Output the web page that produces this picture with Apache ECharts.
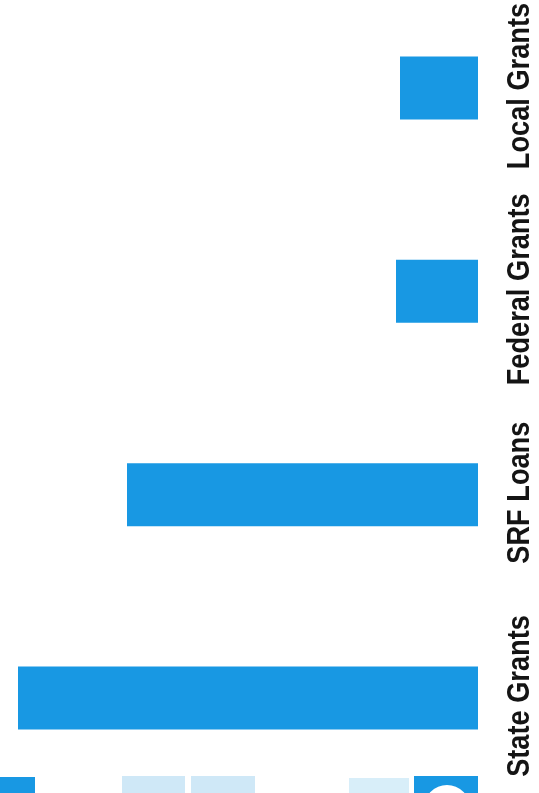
<!DOCTYPE html>
<html>
<head>
<meta charset="utf-8">
<script src="https://cdn.jsdelivr.net/npm/echarts@6/dist/echarts.min.js"></script>
<style>html,body{margin:0;padding:0;background:#fff;}#c{width:539px;height:793px;}</style>
</head>
<body>
<div id="c"></div>
<script>
const categories = ['Local Grants', 'Federal Grants', 'SRF Loans', 'State Grants'];
const values = [0.78, 0.82, 3.51, 4.60];
const axisMax = 4.60;

const chart = echarts.init(document.getElementById('c'), null, {renderer: 'canvas'});
chart.setOption({
  animation: false,
  backgroundColor: '#ffffff',
  grid: {left: 18, right: 61, top: 88, bottom: 95, containLabel: false, outerBoundsMode: 'none'},
  xAxis: {
    type: 'value', inverse: true, min: 0, max: axisMax,
    show: false
  },
  yAxis: {
    type: 'category', data: categories, inverse: true, position: 'right',
    boundaryGap: false,
    axisLine: {show: false}, axisTick: {show: false}, splitLine: {show: false},
    axisLabel: {show: false}
  },
  series: [{
    type: 'bar', data: values, barWidth: 63,
    itemStyle: {color: '#1898e3'}
  }]
});

// Condensed category labels placed at the category axis positions
const labelGraphics = categories.map(function (name) {
  const y = chart.convertToPixel({yAxisIndex: 0}, name);
  const x = chart.convertToPixel({xAxisIndex: 0}, 0);
  return {
    type: 'text',
    x: x + 42, y: y - 2,
    rotation: Math.PI / 2,
    scaleX: 0.85, scaleY: 1,
    style: {
      text: name, fill: '#141414',
      font: 'bold 32px "Liberation Sans", Arial, sans-serif',
      align: 'center', verticalAlign: 'middle'
    }
  };
});

const decor = [
  {type: 'rect', shape: {x: 0, y: 777, width: 35, height: 20}, style: {fill: '#1898e3'}},
  {type: 'rect', shape: {x: 122, y: 776, width: 63, height: 20}, style: {fill: '#cfe8f7'}},
  {type: 'rect', shape: {x: 191, y: 776, width: 64, height: 20}, style: {fill: '#cfe8f7'}},
  {type: 'rect', shape: {x: 349, y: 778, width: 60, height: 20}, style: {fill: '#d8eef9'}},
  {type: 'rect', shape: {x: 414, y: 776, width: 64, height: 20}, style: {fill: '#1898e3'}},
  {type: 'circle', shape: {cx: 447, cy: 808, r: 23}, style: {fill: '#ffffff'}}
];

chart.setOption({graphic: labelGraphics.concat(decor)});
</script>
</body>
</html>
